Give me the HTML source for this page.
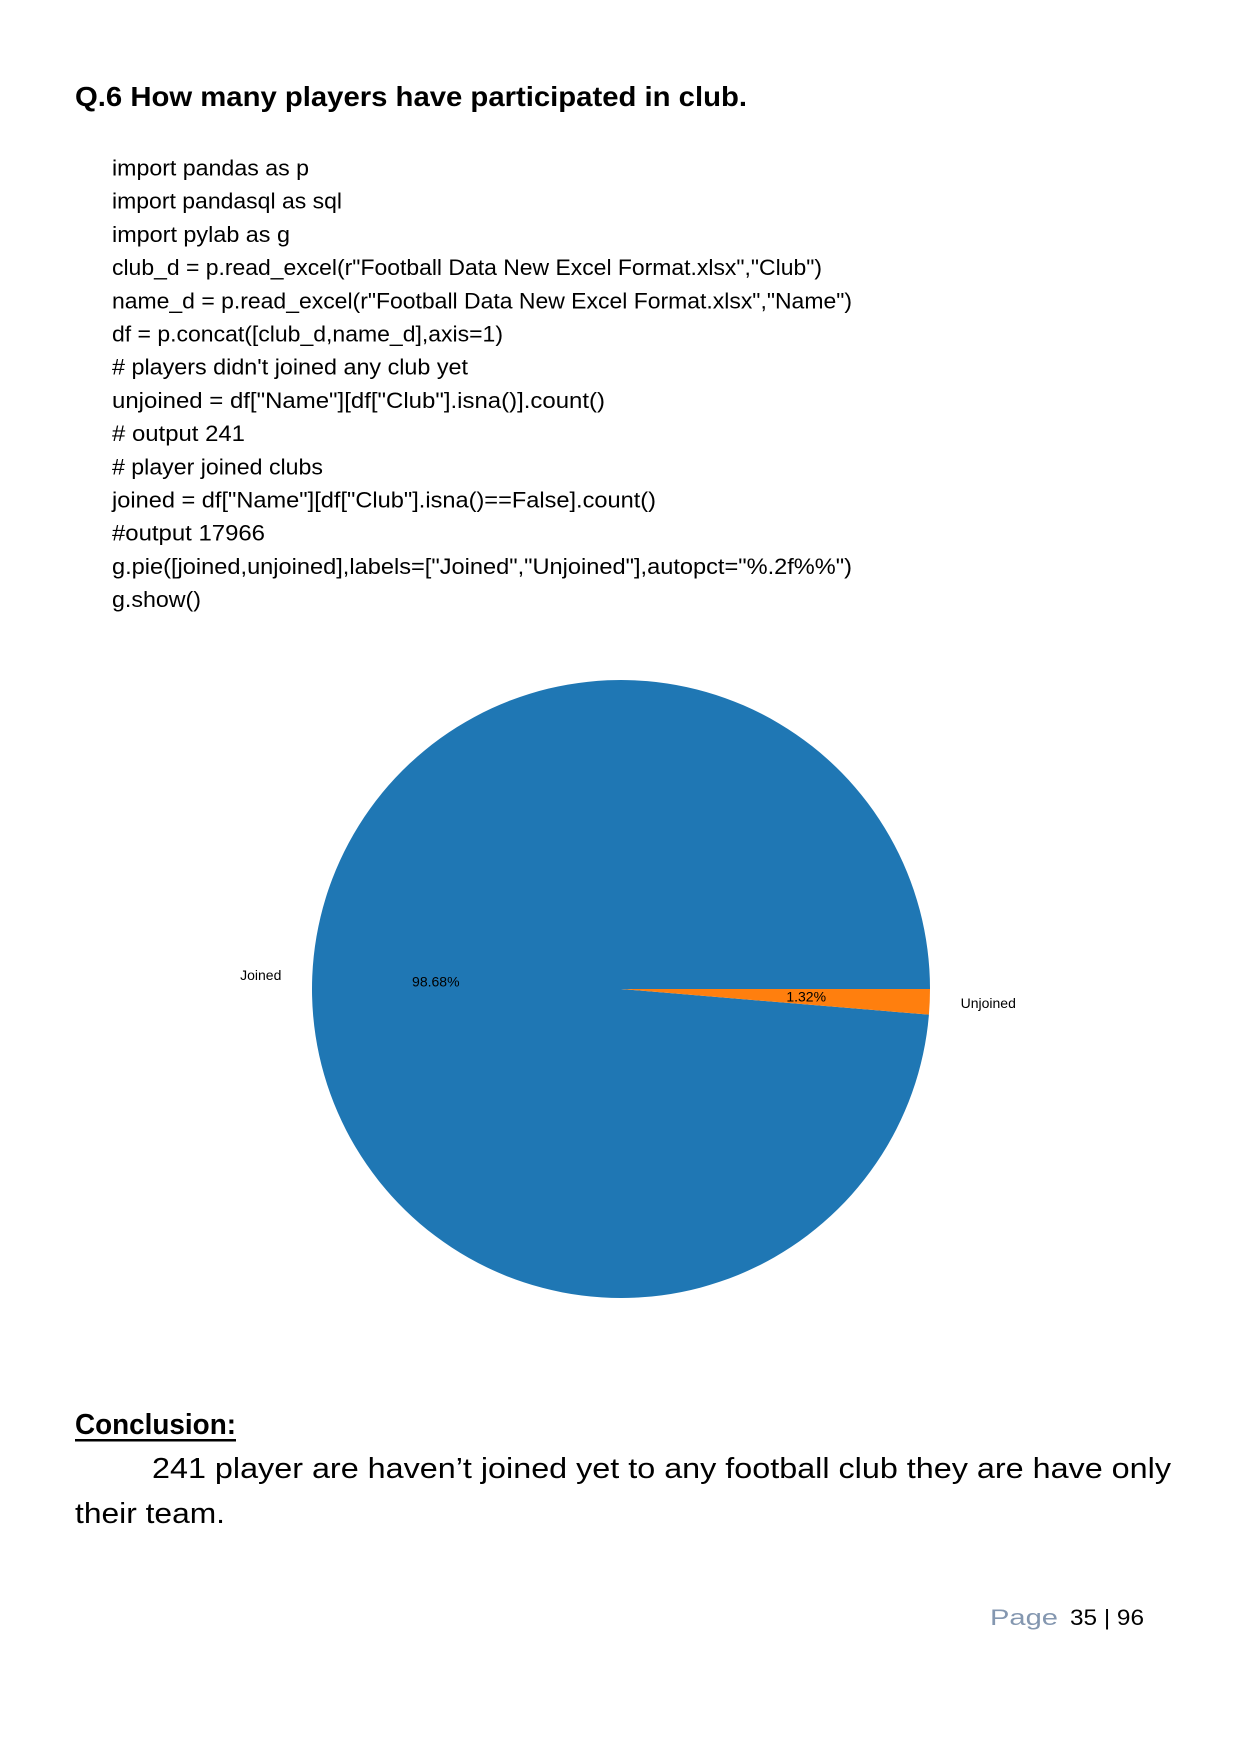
<!DOCTYPE html>
<html><head><meta charset="utf-8"><style>
html,body{margin:0;padding:0;background:#fff;}
svg{display:block;}
text{font-family:"Liberation Sans",sans-serif;}
</style></head><body>
<svg id="page" width="1240" height="1754" viewBox="0 0 1240 1754" xmlns="http://www.w3.org/2000/svg">
<text x="75" y="106" font-size="28" font-weight="bold" textLength="672" lengthAdjust="spacingAndGlyphs">Q.6 How many players have participated in club.</text>
<g id="code" font-size="22" fill="#000"></g>
<g id="pie"></g>
<text x="75" y="1434" font-size="29" font-weight="bold" textLength="161" lengthAdjust="spacingAndGlyphs">Conclusion:</text>
<rect x="75" y="1439" width="161" height="2.5" fill="#000"/>
<text x="152" y="1478" font-size="29" textLength="1019" lengthAdjust="spacingAndGlyphs">241 player are haven’t joined yet to any football club they are have only</text>
<text x="75" y="1523" font-size="29" textLength="150" lengthAdjust="spacingAndGlyphs">their team.</text>
<text x="990" y="1625" font-size="22" fill="#8497b0" textLength="68" lengthAdjust="spacingAndGlyphs">Page</text>
<text x="1070" y="1625" font-size="22" fill="#000" textLength="74" lengthAdjust="spacingAndGlyphs">35 | 96</text>
</svg>
<script>
const codeLines = ['import pandas as p','import pandasql as sql','import pylab as g',
'club_d = p.read_excel(r"Football Data New Excel Format.xlsx","Club")',
'name_d = p.read_excel(r"Football Data New Excel Format.xlsx","Name")',
'df = p.concat([club_d,name_d],axis=1)',
"# players didn't joined any club yet",
'unjoined = df["Name"][df["Club"].isna()].count()',
'# output 241','# player joined clubs',
'joined = df["Name"][df["Club"].isna()==False].count()',
'#output 17966',
'g.pie([joined,unjoined],labels=["Joined","Unjoined"],autopct="%.2f%%")',
'g.show()'];
const codeEnds = [275,305,258,732,758,448,417,539,218,288,584,236,758,179];
const NS='http://www.w3.org/2000/svg';
const cg=document.getElementById('code');
codeLines.forEach((s,i)=>{
  const t=document.createElementNS(NS,'text');
  t.setAttribute('x',112);
  t.setAttribute('y',(175.5+i*33.2).toFixed(1));
  t.setAttribute('textLength',((codeEnds[i]-100)*1.124).toFixed(0));
  t.setAttribute('lengthAdjust','spacingAndGlyphs');
  t.textContent=s;
  
  
  cg.appendChild(t);
});

const categories = ['Joined','Unjoined'];
const values = [17966, 241];
const colors = ['#1f77b4','#ff7f0e'];

const cx=621, cy=989, R=309;
const pg=document.getElementById('pie');
const total=values.reduce((a,b)=>a+b,0);
let start=0;
function pt(a,r){return [cx+r*Math.cos(a), cy-r*Math.sin(a)];}
values.forEach((v,i)=>{
  const frac=v/total, a0=start*2*Math.PI, a1=(start+frac)*2*Math.PI;
  const [x0,y0]=pt(a0,R),[x1,y1]=pt(a1,R);
  const large=frac>0.5?1:0;
  const p=document.createElementNS(NS,'path');
  p.setAttribute('d',`M${cx},${cy} L${x0},${y0} A${R},${R} 0 ${large} 0 ${x1},${y1} Z`);
  p.setAttribute('fill',colors[i]);
  
  
  pg.appendChild(p);
  const mid=(a0+a1)/2;
  const [lx,ly]=pt(mid,R*1.1);
  const l=document.createElementNS(NS,'text');
  l.setAttribute('x',lx.toFixed(1)); l.setAttribute('y',(ly+5).toFixed(1));
  l.setAttribute('font-size','14');
  l.setAttribute('font-family','"DejaVu Sans",sans-serif');
  l.setAttribute('text-anchor',Math.cos(mid)<0?'end':'start');
  l.textContent=categories[i];
  
  
  pg.appendChild(l);
  const [px,py]=pt(mid,R*0.6);
  const q=document.createElementNS(NS,'text');
  q.setAttribute('x',px.toFixed(1)); q.setAttribute('y',(py+5).toFixed(1));
  q.setAttribute('font-size','14');
  q.setAttribute('font-family','"DejaVu Sans",sans-serif');
  q.setAttribute('text-anchor','middle');
  q.textContent=(frac*100).toFixed(2)+'%';
  
  
  pg.appendChild(q);
  start+=frac;
});
</script>
</body></html>
